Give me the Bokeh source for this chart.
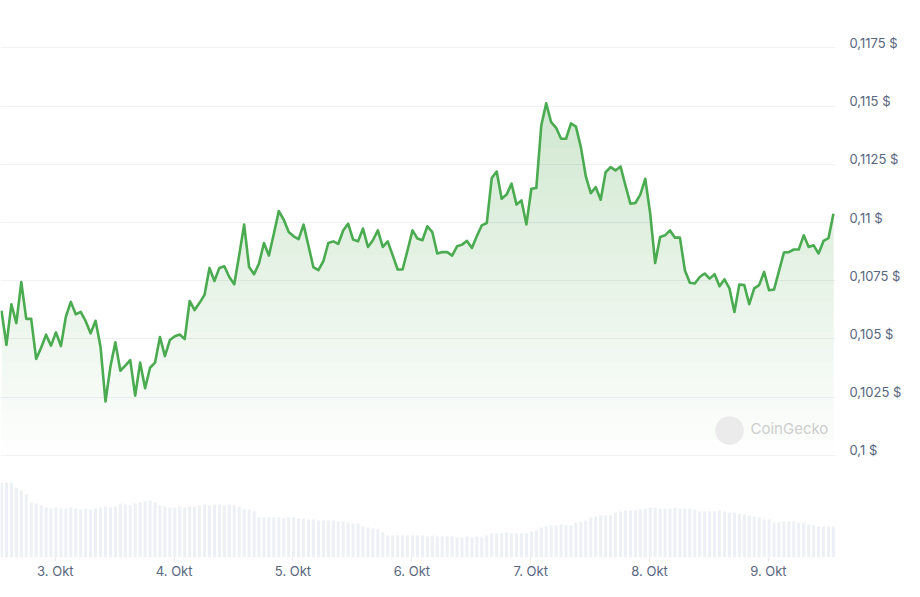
import numpy as np
import pandas as pd
from bokeh.plotting import figure
from bokeh.models import Range1d, LinearAxis, FixedTicker, Grid, Label, BoxAnnotation
from bokeh.embed import file_html
from bokeh.resources import INLINE

# ---------------- data ----------------
start_time = "2024-10-02 13:08"   # first hourly sample

prices = [
    0.10621, 0.10474, 0.10649, 0.10568, 0.10744, 0.10586, 0.10586, 0.10414, 0.10462, 0.10518,
    0.10471, 0.10528, 0.10469, 0.10595, 0.10659, 0.10606, 0.10616, 0.10576, 0.10524, 0.10578,
    0.10466, 0.10231, 0.10381, 0.10485, 0.10363, 0.10385, 0.10409, 0.10256, 0.10398, 0.10288,
    0.10376, 0.10398, 0.10508, 0.10426, 0.10495, 0.10511, 0.10519, 0.10499, 0.10663, 0.10624,
    0.10655, 0.10689, 0.10805, 0.10749, 0.10805, 0.10812, 0.10766, 0.10735, 0.10859, 0.10991,
    0.10809, 0.10778, 0.10824, 0.10912, 0.10858, 0.10952, 0.11049, 0.11012, 0.10959, 0.10941,
    0.10929, 0.10991, 0.10899, 0.10807, 0.10795, 0.10834, 0.10912, 0.10919, 0.10908, 0.10966,
    0.10995, 0.10927, 0.10919, 0.10974, 0.10895, 0.10924, 0.10966, 0.10895, 0.10919, 0.10859,
    0.10798, 0.10798, 0.10881, 0.10966, 0.10931, 0.10924, 0.10984, 0.10959, 0.10867, 0.10873,
    0.10873, 0.10858, 0.10898, 0.10905, 0.10921, 0.10891, 0.10942, 0.10988, 0.10998, 0.11191,
    0.11219, 0.11102, 0.11120, 0.11167, 0.11077, 0.11095, 0.10992, 0.11145, 0.11148, 0.11417,
    0.11512, 0.11431, 0.11407, 0.11360, 0.11360, 0.11426, 0.11412, 0.11324, 0.11198, 0.11126,
    0.11152, 0.11098, 0.11216, 0.11238, 0.11224, 0.11241, 0.11159, 0.11081, 0.11084, 0.11120,
    0.11188, 0.11038, 0.10826, 0.10938, 0.10945, 0.10966, 0.10935, 0.10935, 0.10795, 0.10741,
    0.10738, 0.10766, 0.10781, 0.10759, 0.10778, 0.10726, 0.10756, 0.10717, 0.10616, 0.10734,
    0.10731, 0.10649, 0.10717, 0.10731, 0.10788, 0.10709, 0.10712, 0.10791, 0.10871, 0.10873,
    0.10884, 0.10884, 0.10945, 0.10895, 0.10902, 0.10867, 0.10921, 0.10933, 0.11038,
]

volumes = [
    75, 75, 75, 70, 67, 63, 55, 54, 52, 50,
    49, 50, 49, 49, 50, 49, 48, 49, 48, 49,
    50, 51, 50, 51, 54, 53, 52, 54, 55, 56,
    57, 55, 52, 51, 50, 50, 51, 50, 51, 51,
    52, 53, 52, 53, 53, 52, 53, 52, 51, 48,
    48, 46, 40, 40, 40, 40, 40, 39, 40, 40,
    39, 39, 38, 38, 37, 37, 37, 37, 36, 36,
    35, 34, 34, 31, 30, 29, 28, 25, 22, 22,
    22, 22, 22, 22, 22, 22, 21, 22, 21, 21,
    21, 21, 20, 20, 21, 20, 21, 20, 22, 24,
    24, 24, 25, 24, 24, 24, 24, 26, 27, 30,
    31, 32, 32, 33, 32, 32, 35, 36, 37, 40,
    41, 42, 42, 42, 45, 46, 47, 47, 47, 48,
    49, 50, 50, 49, 49, 49, 50, 49, 49, 49,
    48, 46, 46, 46, 46, 47, 46, 45, 45, 44,
    43, 42, 41, 40, 38, 38, 35, 35, 36, 36,
    36, 35, 35, 33, 32, 31, 31, 31, 31,
]

day_ticks = ["2024-10-03", "2024-10-04", "2024-10-05", "2024-10-06",
             "2024-10-07", "2024-10-08", "2024-10-09"]
day_labels = ["3. Okt", "4. Okt", "5. Okt", "6. Okt", "7. Okt", "8. Okt", "9. Okt"]

price_ticks = [0.1, 0.1025, 0.105, 0.1075, 0.11, 0.1125, 0.115, 0.1175]
price_labels = ["0,1 $", "0,1025 $", "0,105 $", "0,1075 $", "0,11 $",
                "0,1125 $", "0,115 $", "0,1175 $"]

# ---------------- derived ----------------
times = pd.date_range(start_time, periods=len(prices), freq="h")
price_arr = np.array(prices)
HOUR = 3600 * 1000.0

t0 = pd.Timestamp(day_ticks[0]).value / 1e6
x_start = t0 - 11.066 * HOUR
x_end = t0 + 157.55 * HOUR

y0, y1 = 0.095607, 0.11954
lab_shift = 0.000214

GREEN = "#4aab50"
GREY_TXT = "#58667e"
FONT = "Inter"

p = figure(width=904, height=581, x_axis_type="datetime",
           x_range=Range1d(x_start, x_end), y_range=Range1d(y0, y1),
           y_axis_location=None, toolbar_location=None,
           output_backend="svg",
           min_border_left=0, min_border_top=0,
           min_border_right=66, min_border_bottom=23)
p.outline_line_color = None
p.xgrid.visible = False
p.ygrid.visible = False
p.background_fill_color = "white"
p.border_fill_color = "white"

# volume range and label range
p.extra_y_ranges = {"vol": Range1d(0, 558),
                    "lab": Range1d(y0 - lab_shift, y1 - lab_shift)}

# horizontal grid
grid = Grid(dimension=1, ticker=FixedTicker(ticks=price_ticks),
            grid_line_color="#eff1f4", grid_line_width=1)
p.add_layout(grid)

# volume bars
p.vbar(x=times, top=volumes, bottom=0, width=0.62 * HOUR,
       y_range_name="vol", fill_color="#edf0f4", line_color=None)

# gradient area (stacked translucent layers)
levels = np.linspace(0.1, 0.1152, 24)
for L in levels:
    p.varea(x=times, y1=np.full(len(prices), L), y2=np.maximum(price_arr, L),
            fill_color=GREEN, fill_alpha=0.0135)

p.line(times, prices, line_color=GREEN, line_width=2.6, line_join="round")

# x axis
xa = p.xaxis[0]
day_ms = [pd.Timestamp(d).value / 1e6 for d in day_ticks]
xa.ticker = FixedTicker(ticks=day_ms)
xa.major_label_overrides = {ms: lab for ms, lab in zip(day_ms, day_labels)}
xa.axis_line_color = None
xa.major_tick_line_color = "#e3e6ea"
xa.major_tick_out = 4
xa.major_tick_in = 0
xa.minor_tick_line_color = None
xa.major_label_standoff = 1
xa.major_label_text_font = FONT
xa.major_label_text_font_size = "13px"
xa.major_label_text_color = GREY_TXT

# right price axis
ya = LinearAxis(y_range_name="lab", ticker=FixedTicker(ticks=price_ticks))
ya.major_label_overrides = {v: lab for v, lab in zip(price_ticks, price_labels)}
ya.axis_line_color = None
ya.major_tick_line_color = None
ya.minor_tick_line_color = None
ya.major_tick_out = 0
ya.major_tick_in = 0
ya.major_label_standoff = 14
ya.major_label_text_font = FONT
ya.major_label_text_font_size = "13px"
ya.major_label_text_color = GREY_TXT
p.add_layout(ya, "right")

# watermark
logo = BoxAnnotation(left=715, right=743, bottom=113, top=141,
                     left_units="screen", right_units="screen",
                     bottom_units="screen", top_units="screen",
                     fill_color="#ebebeb", fill_alpha=1.0,
                     line_color="#e2e2e2", line_width=1, border_radius=14)
p.add_layout(logo)
wm = Label(x=750, y=129, x_units="screen", y_units="screen", text="CoinGecko",
           text_font=FONT, text_font_size="15px", text_color="#cdcdcd",
           text_baseline="middle", text_align="left")
p.add_layout(wm)

open("out.html", "w").write(file_html(p, INLINE))
